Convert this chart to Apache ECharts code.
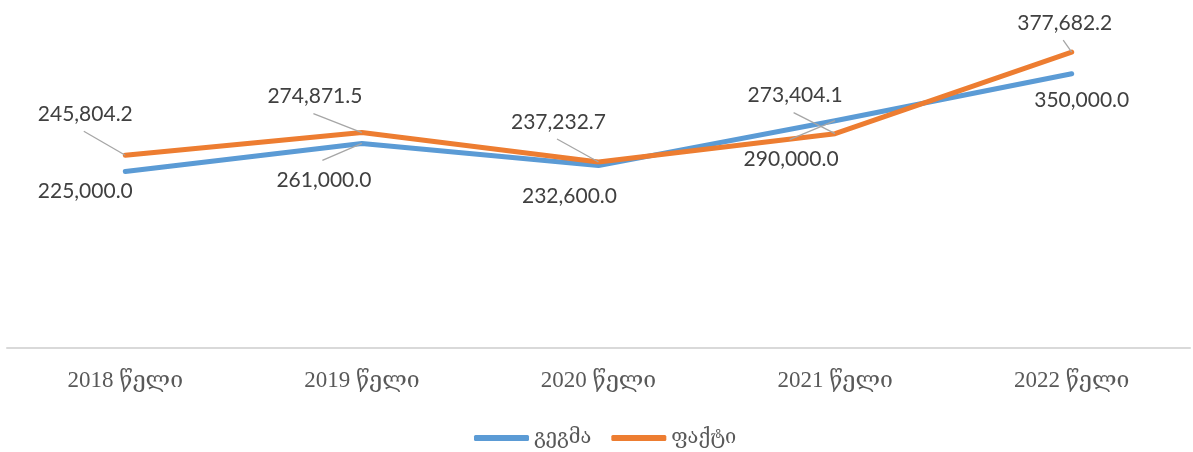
<!DOCTYPE html>
<html>
<head>
<meta charset="utf-8">
<script src="https://cdn.jsdelivr.net/npm/echarts@6/dist/echarts.min.js"></script>
<style>
html,body{margin:0;padding:0;background:#fff;}
#chart{width:1193px;height:452px;}
</style>
</head>
<body>
<div id="chart"></div>
<script>
const categories = ['2018 წელი', '2019 წელი', '2020 წელი', '2021 წელი', '2022 წელი'];
const planName = 'გეგმა';
const factName = 'ფაქტი';
const planValues = [225000.0, 261000.0, 232600.0, 290000.0, 350000.0];
const factValues = [245804.2, 274871.5, 237232.7, 273404.1, 377682.2];

const chart = echarts.init(document.getElementById('chart'));

// label placement (offset of label centre from the point, px) and leader visibility
const planLabelOffset = [[-40, 20], [-38, 37], [-29, 31], [-44, 39], [10, 26]];
const factLabelOffset = [[-40, -41], [-47, -36], [-40, -40], [-40, -38], [-7, -29]];
const planLeader = [false, true, false, true, false];
const factLeader = [true, true, true, true, true];
const planLeaderGap = -20;  // leader ends this far from label centre (vertical)
const factLeaderGap = 17;

const serifFont = '"Liberation Serif", "DejaVu Serif", serif';
const numFont = 'Lato, "Open Sans", sans-serif';
const fmt = v => v.toLocaleString('en-US', {minimumFractionDigits: 1, maximumFractionDigits: 1});

function buildSeries(name, values, color, offsets) {
  return {
    name: name,
    type: 'line',
    data: values,
    symbol: 'circle',
    symbolSize: 2,
    itemStyle: {color: color},
    lineStyle: {color: color, width: 5, cap: 'round', join: 'round'},
    label: {
      show: true,
      position: 'inside',
      formatter: p => fmt(p.value),
      fontFamily: numFont,
      fontSize: 21,
      color: '#404040'
    },
    labelLine: {show: false},
    labelLayout: function (p) {
      const cx = p.rect.x + p.rect.width / 2;
      const cy = p.rect.y + p.rect.height / 2;
      const o = offsets[p.dataIndex];
      return {x: cx + o[0], y: cy + o[1], align: 'center', verticalAlign: 'middle'};
    },
    emphasis: {disabled: true},
    z: 2
  };
}

function buildLeaders(name, values, offsets, leaders, gap) {
  return {
    name: name + '-leader',
    type: 'custom',
    silent: true,
    z: 3,
    data: values.map((v, i) => [i, v]).filter((d, i) => leaders[i]),
    renderItem: function (params, api) {
      const i = api.value(0);
      const p = api.coord([i, api.value(1)]);
      const o = offsets[i];
      return {
        type: 'line',
        shape: {x1: p[0], y1: p[1], x2: p[0] + o[0] - 1.5, y2: p[1] + o[1] + gap},
        style: {stroke: '#a6a6a6', lineWidth: 1.3}
      };
    }
  };
}

chart.setOption({
  animation: false,
  backgroundColor: '#ffffff',
  grid: {left: 7, right: 3, top: 34.7, bottom: 104.5, containLabel: false, outerBoundsMode: 'none'},
  legend: {
    data: [planName, factName],
    top: 423,
    left: 469,
    icon: 'roundRect',
    itemWidth: 55,
    itemHeight: 6,
    itemGap: 20,
    textStyle: {fontFamily: serifFont, fontSize: 20, color: '#595959'}
  },
  xAxis: {
    type: 'category',
    data: categories,
    boundaryGap: true,
    axisLine: {lineStyle: {color: '#d9d9d9', width: 2}},
    axisTick: {show: false},
    axisLabel: {margin: 22, fontFamily: serifFont, fontSize: 23, color: '#595959'}
  },
  yAxis: {
    type: 'value',
    min: 0,
    max: 400000,
    show: false,
    splitLine: {show: false}
  },
  series: [
    buildSeries(planName, planValues, '#5B9BD5', planLabelOffset),
    buildSeries(factName, factValues, '#ED7D31', factLabelOffset),
    buildLeaders(planName, planValues, planLabelOffset, planLeader, planLeaderGap),
    buildLeaders(factName, factValues, factLabelOffset, factLeader, factLeaderGap)
  ]
});
</script>
</body>
</html>
